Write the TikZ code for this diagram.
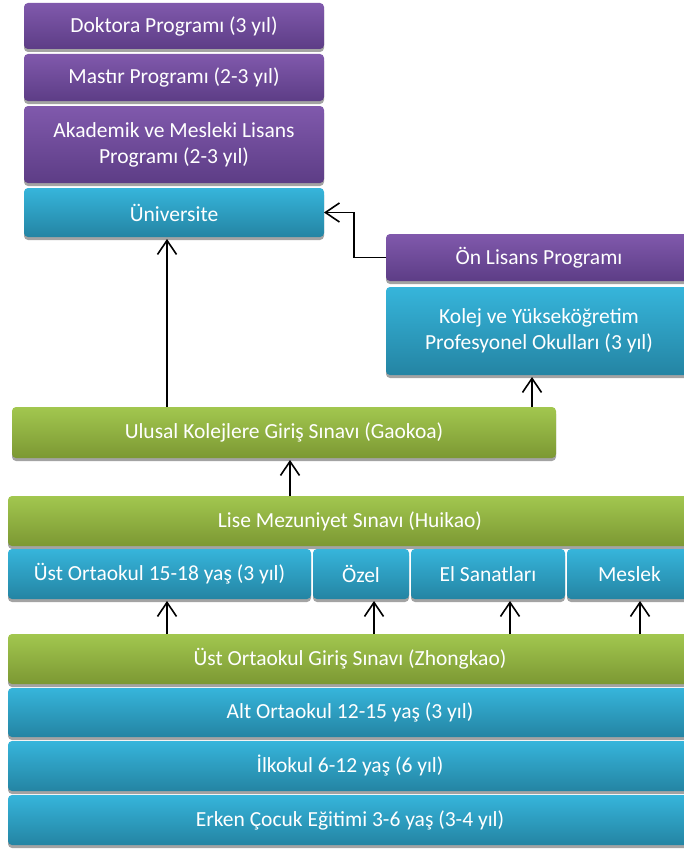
\documentclass[tikz,border=0pt]{standalone}
\usepackage{fontspec}
\setmainfont{Carlito}
\usetikzlibrary{arrows.meta,shadows}
\definecolor{morUst}{HTML}{8059AC}
\definecolor{morAlt}{HTML}{5D3D86}
\definecolor{maviUst}{HTML}{36B5DB}
\definecolor{maviAlt}{HTML}{2484A3}
\definecolor{yesilUst}{HTML}{A2C74F}
\definecolor{yesilAlt}{HTML}{7C9833}
\definecolor{golge}{HTML}{A3A3A3}
% katman: ad, x1, y1, x2, y2, stil, metin
\newcommand{\katman}[7]{\node[#6, minimum width={#4-#2}, minimum height={#5-#3}]
  (#1) at ({(#2+#4)/2},{(#3+#5)/2}) {#7};}

\tikzset{
  kutu/.style={rounded corners=4pt, inner sep=0pt, outer sep=0pt, text=white,
    align=center, font=\fontsize{21.5}{26}\selectfont,
    drop shadow={shadow xshift=0pt, shadow yshift=-3pt, fill=golge, opacity=1}},
  mor/.style={kutu, top color=morUst, bottom color=morAlt},
  mavi/.style={kutu, top color=maviUst, bottom color=maviAlt},
  yesil/.style={kutu, top color=yesilUst, bottom color=yesilAlt},
  ok/.style={line width=1.6pt, -{Straight Barb[length=14pt,width=19pt]}, shorten >=2pt}
}

\begin{document}
\begin{tikzpicture}[x=1pt,y=-1pt]
  \useasboundingbox (0,0) rectangle (684,851);
  \clip (0,0) rectangle (684,851);

  % universite ve programlar
  \katman{doktora}{24}{3}{324}{49}{mor}{Doktora Programı (3 yıl)}
  \katman{mastir}{24}{54}{324}{101}{mor}{Mastır Programı (2-3 yıl)}
  \katman{lisans}{24}{106}{324}{183}{mor}{Akademik ve Mesleki Lisans\\Programı (2-3 yıl)}
  \katman{uni}{24}{188}{324}{237}{mavi}{Üniversite}

  % kolejler
  \katman{onlisans}{386}{234}{692}{281}{mor}{Ön Lisans Programı}
  \katman{kolej}{386}{287}{692}{375}{mavi}{Kolej ve Yükseköğretim\\Profesyonel Okulları (3 yıl)}

  % sinavlar ve orta ogretim
  \katman{gaokao}{12}{407}{556}{458}{yesil}{Ulusal Kolejlere Giriş Sınavı (Gaokoa)}
  \katman{huikao}{8}{496}{692}{546}{yesil}{Lise Mezuniyet Sınavı (Huikao)}
  \katman{ustorta}{8}{549}{311}{599}{mavi}{Üst Ortaokul 15-18 yaş (3 yıl)}
  \katman{ozel}{313}{549}{409}{599}{mavi}{Özel}
  \katman{elsanat}{411}{549}{565}{599}{mavi}{El Sanatları}
  \katman{meslek}{567}{549}{692}{599}{mavi}{Meslek}

  % temel egitim
  \katman{zhongkao}{8}{634}{692}{684}{yesil}{Üst Ortaokul Giriş Sınavı (Zhongkao)}
  \katman{altorta}{8}{688}{692}{737}{mavi}{Alt Ortaokul 12-15 yaş (3 yıl)}
  \katman{ilkokul}{8}{741}{692}{791}{mavi}{İlkokul 6-12 yaş (6 yıl)}
  \katman{erken}{8}{795}{692}{845}{mavi}{Erken Çocuk Eğitimi 3-6 yaş (3-4 yıl)}

  % oklar
  \draw[ok] (167,0 |- gaokao.north) -- (167,0 |- uni.south);
  \draw[ok] (532,0 |- gaokao.north) -- (532,0 |- kolej.south);
  \draw[ok] (290,0 |- huikao.north) -- (290,0 |- gaokao.south);
  \foreach \x/\hedef in {167/ustorta, 374/ozel, 510/elsanat, 640/meslek}
    \draw[ok] (\x,0 |- zhongkao.north) -- (\x,0 |- \hedef.south);
  \draw[ok, shorten >=0pt] (onlisans.west) -- ++(-32,0) |- (uni.east);
\end{tikzpicture}
\end{document}
